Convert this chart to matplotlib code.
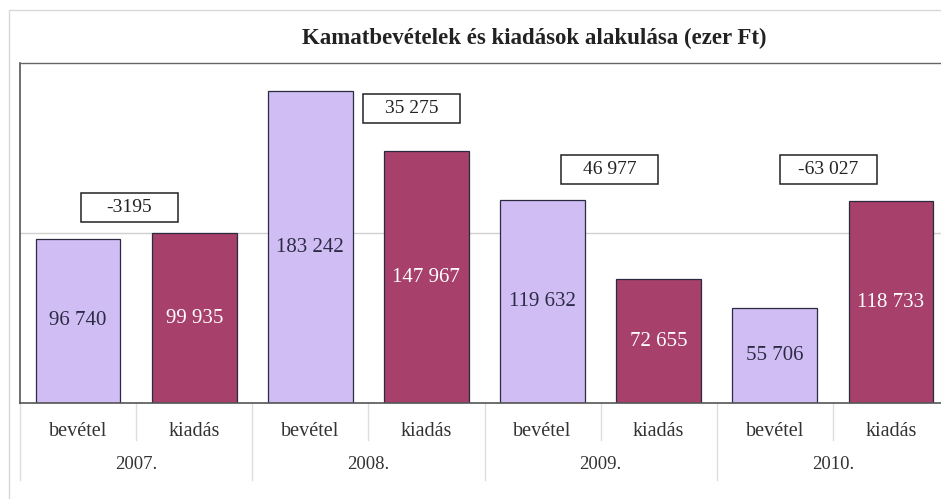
import numpy as np
import matplotlib.pyplot as plt
from matplotlib.patches import Rectangle
import matplotlib.transforms as mtransforms

plt.rcParams['font.family'] = ['Liberation Serif', 'DejaVu Serif']

# data
years = ['2007.', '2008.', '2009.', '2010.']
kinds = ['bevétel', 'kiadás']
bevetel = [96740, 183242, 119632, 55706]
kiadas = [99935, 147967, 72655, 118733]
diffs = ['-3195', '35 275', '46 977', '-63 027']
# where the difference boxes sit (x in category units, y in data units)
diff_x = [0.44, 2.87, 4.58, 6.46]
diff_y = [115000, 173000, 137500, 137500]

col_bev = '#CFBDF4'
col_kia = '#A7406A'


def fmt(v):
    return f'{v:,}'.replace(',', ' ')


fig = plt.figure(figsize=(9.41, 4.99), dpi=100)
W, H = 941, 499
ax = fig.add_axes([20 / W, (H - 403) / H, 929 / W, 340 / H])

vals = []
cols = []
for b, k in zip(bevetel, kiadas):
    vals += [b, k]
    cols += [col_bev, col_kia]
x = np.arange(len(vals))
bars = ax.bar(x, vals, width=0.73, color=cols, edgecolor='#2a2a40', linewidth=0.9, zorder=3)

for i, (rect, v) in enumerate(zip(bars, vals)):
    tc = '#2b2b45' if i % 2 == 0 else 'white'
    ax.text(rect.get_x() + rect.get_width() / 2, v / 2, fmt(v), ha='center', va='center',
            fontsize=15, color=tc, zorder=4)

ax.set_xlim(-0.5, len(vals) - 0.5)
ax.set_ylim(0, 200000)
ax.axhline(100000, color='#d0d0d0', linewidth=1.0, zorder=1)
ax.axhline(0, color='#555555', linewidth=1.2, zorder=5, clip_on=False)

for s in ['right', 'bottom']:
    ax.spines[s].set_visible(False)
ax.spines['top'].set_color('#666666')
ax.spines['top'].set_linestyle((0, (3, 1)))
ax.spines['top'].set_linewidth(1.0)
ax.spines['left'].set_color('#555555')
ax.spines['left'].set_linewidth(1.2)
ax.set_xticks([])
ax.set_yticks([])

# difference boxes
bw, bh = 0.835, 17000
for dx, dy, t in zip(diff_x, diff_y, diffs):
    ax.add_patch(Rectangle((dx - bw / 2, dy - bh / 2), bw, bh, facecolor='white',
                           edgecolor='#222222', linewidth=1.1, zorder=6))
    ax.text(dx, dy, t, ha='center', va='center', fontsize=14, color='#222222', zorder=7)

# category axis labels
trans = mtransforms.blended_transform_factory(ax.transData, ax.transAxes)
for i in range(len(vals)):
    ax.text(i, -0.085, kinds[i % 2], transform=trans, ha='center', va='center',
            fontsize=14.5, color='#333333')
for j, y in enumerate(years):
    ax.text(2 * j + 0.5, -0.182, y, transform=trans, ha='center', va='center',
            fontsize=13.5, color='#333333')
for i in range(1, len(vals)):
    low = -0.226 if i % 2 == 0 else -0.109
    ax.plot([i - 0.5, i - 0.5], [0, low], transform=trans, color='#dddddd',
            linewidth=1.0, clip_on=False)
ax.plot([-0.5, -0.5], [0, -0.226], transform=trans, color='#dddddd', linewidth=1.0, clip_on=False)

# title and outer frame
fig.text(534 / W, 1 - 38 / H, 'Kamatbevételek és kiadások alakulása (ezer Ft)',
         ha='center', va='center', fontsize=16.5, fontweight='bold', color='#222222')
fig.add_artist(Rectangle((9 / W, -0.1), 1.1, 1 - 10 / H + 0.1, transform=fig.transFigure,
                         fill=False, edgecolor='#d8d8d8', linewidth=1.0))

fig.savefig('out.png', dpi=100, facecolor='white')
